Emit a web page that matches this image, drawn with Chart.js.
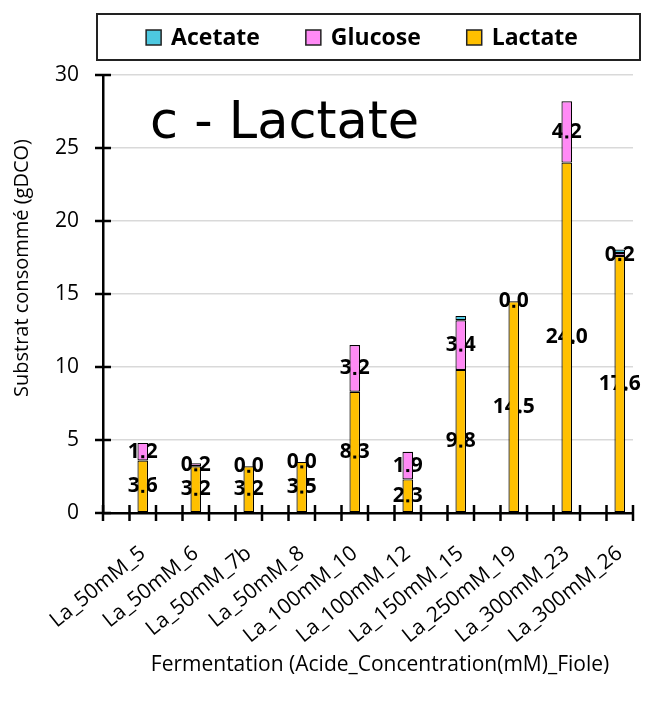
<!DOCTYPE html>
<html>
<head>
<meta charset="utf-8">
<script src="https://cdn.jsdelivr.net/npm/chart.js@4/dist/chart.umd.min.js"></script>
<style>
  body { margin: 0; background: #fff; }
</style>
</head>
<body>
<canvas id="graf" width="645" height="709"></canvas>
<script>
// Données (gDCO)
const fioles = ['La_50mM_5', 'La_50mM_6', 'La_50mM_7b', 'La_50mM_8', 'La_100mM_10',
                'La_100mM_12', 'La_150mM_15', 'La_250mM_19', 'La_300mM_23', 'La_300mM_26'];
const lactate = [3.6, 3.2, 3.2, 3.5, 8.3, 2.3, 9.8, 14.5, 24.0, 17.6];
const glucose = [1.2, 0.2, 0.0, 0.0, 3.2, 1.9, 3.4, 0.0, 4.2, 0.2];
const acetate = [0, 0, 0, 0, 0, 0, 0.3, 0, 0, 0.25];
const yTicks = [0, 5, 10, 15, 20, 25, 30];

// Excel laisse une catégorie vide avant chaque fiole
const labels = [];
fioles.forEach(f => { labels.push(''); labels.push(f); });
function etaler(vals) {
    const out = [];
    vals.forEach(v => { out.push(null); out.push(v); });
    return out;
}

const police = '"Open Sans", sans-serif';
const policeEtiq = 'bold 21px ' + police;

const decor = {
    id: 'decor',
    // étiquettes dessinées avant les barres (elles passent derrière, comme dans Excel)
    beforeDatasetsDraw(chart) {
        const ctx = chart.ctx;
        ctx.save();
        ctx.font = policeEtiq;
        ctx.fillStyle = '#000';
        ctx.textAlign = 'center';
        ctx.textBaseline = 'middle';
        chart.data.datasets.forEach((ds, di) => {
            if (!ds.etiquette) return;
            chart.getDatasetMeta(di).data.forEach((el, i) => {
                if (ds.data[i] === null) return;
                ctx.fillText(ds.data[i].toFixed(1), el.x, (el.y + el.base) / 2);
            });
        });
        ctx.restore();
    },
    afterDatasetsDraw(chart) {
        const ctx = chart.ctx;
        ctx.save();
        ctx.font = policeEtiq;
        ctx.fillStyle = '#000';
        chart.data.datasets.forEach((ds, di) => {
            if (!ds.etiquette) return;
            chart.getDatasetMeta(di).data.forEach((el, i) => {
                if (ds.data[i] === null) return;
                const txt = ds.data[i].toFixed(1);
                const w = ctx.measureText(txt).width;
                const avant = ctx.measureText(txt.split('.')[0]).width;
                const pt = ctx.measureText('.').width;
                const px = el.x - w / 2 + avant + pt / 2;
                const py = (el.y + el.base) / 2 + 5;
                ctx.fillRect(px - 1.5, py - 1.5, 3, 3);
            });
        });
        ctx.restore();
    },
    afterDraw(chart) {
        const ctx = chart.ctx;
        const x = chart.scales.x, y = chart.scales.y;
        const ca = chart.chartArea;
        ctx.save();
        // graduations en croix
        ctx.strokeStyle = '#000';
        ctx.lineWidth = 2.5;
        const n = chart.data.labels.length;
        for (let i = 0; i <= n; i++) {
            const px = x.left + i * (x.right - x.left) / n;
            ctx.beginPath();
            ctx.moveTo(px, ca.bottom - 8);
            ctx.lineTo(px, ca.bottom + 8);
            ctx.stroke();
        }
        y.ticks.forEach(t => {
            const py = y.getPixelForValue(t.value);
            ctx.beginPath();
            ctx.moveTo(ca.left - 8, py);
            ctx.lineTo(ca.left + 8, py);
            ctx.stroke();
        });

        // titres des axes
        ctx.fillStyle = '#000';
        ctx.textAlign = 'center';
        ctx.textBaseline = 'middle';
        ctx.font = '21px ' + police;
        ctx.fillText('Fermentation (Acide_Concentration(mM)_Fiole)', 380, 665);
        ctx.save();
        ctx.translate(22, 268);
        ctx.rotate(-Math.PI / 2);
        ctx.font = '20px ' + police;
        ctx.fillText('Substrat consommé (gDCO)', 0, 0);
        ctx.restore();

        // titre dans le graphe
        ctx.font = '51px "DejaVu Sans", sans-serif';
        ctx.textAlign = 'left';
        ctx.textBaseline = 'alphabetic';
        ctx.fillText('c - Lactate', ca.left + 47, 138);

        // légende encadrée
        ctx.lineWidth = 2;
        ctx.strokeStyle = '#222';
        ctx.strokeRect(ca.left - 6, 14, 640 - (ca.left - 6), 46);
        ctx.font = 'bold 23px ' + police;
        ctx.textBaseline = 'middle';
        const items = chart.data.datasets.slice().reverse();
        const carre = 15, ecart = 10, espace = 46;
        let total = 0;
        items.forEach((ds, k) => {
            total += carre + ecart + ctx.measureText(ds.label).width;
            if (k < items.length - 1) total += espace;
        });
        let cx = 362 - total / 2;
        items.forEach(ds => {
            ctx.fillStyle = ds.backgroundColor;
            ctx.fillRect(cx, 30, carre, carre);
            ctx.lineWidth = 1.5;
            ctx.strokeRect(cx, 30, carre, carre);
            cx += carre + ecart;
            ctx.fillStyle = '#000';
            ctx.fillText(ds.label, cx, 38);
            cx += ctx.measureText(ds.label).width + espace;
        });
        ctx.restore();
    }
};

const graf = document.getElementById('graf');
new Chart(graf, {
    type: 'bar',
    data: {
        labels: labels,
        datasets: [
            { label: 'Lactate', data: etaler(lactate), backgroundColor: '#FFC000', etiquette: true },
            { label: 'Glucose', data: etaler(glucose), backgroundColor: '#FF8AF5', etiquette: true },
            { label: 'Acetate', data: etaler(acetate), backgroundColor: '#4DC8E0', etiquette: false },
        ].map(ds => Object.assign(ds, {
            borderColor: '#000',
            borderWidth: 1.2,
            borderSkipped: false,
            barPercentage: 0.4,
            categoryPercentage: 1.0,
        })),
    },
    options: {
        responsive: false,
        animation: false,
        layout: {
            padding: { left: 8, right: 12, top: 75, bottom: 28 },
        },
        plugins: {
            legend: { display: false },
            tooltip: { enabled: false },
        },
        scales: {
            x: {
                stacked: true,
                offset: true,
                grid: { display: true, drawOnChartArea: false, drawTicks: false },
                border: { color: '#000', width: 2.5 },
                ticks: {
                    autoSkip: false,
                    maxRotation: 39,
                    minRotation: 39,
                    padding: 28,
                    color: '#000',
                    font: { family: police, size: 21 },
                },
                afterFit(scale) {
                    scale.height = 709 - 28 - 513;
                    scale.paddingLeft = 0;
                    scale.paddingRight = 0;
                },
            },
            y: {
                stacked: true,
                min: 0,
                max: 30,
                afterBuildTicks(scale) { scale.ticks = yTicks.map(v => ({ value: v })); },
                grid: { color: '#d9d9d9', lineWidth: 1.5, drawTicks: false },
                border: { color: '#000', width: 2.5 },
                ticks: {
                    padding: 24,
                    color: '#000',
                    font: { family: police, size: 21 },
                },
                afterFit(scale) { scale.width = 103 - 8; },
            },
        },
    },
    plugins: [decor],
});
</script>
</body>
</html>
